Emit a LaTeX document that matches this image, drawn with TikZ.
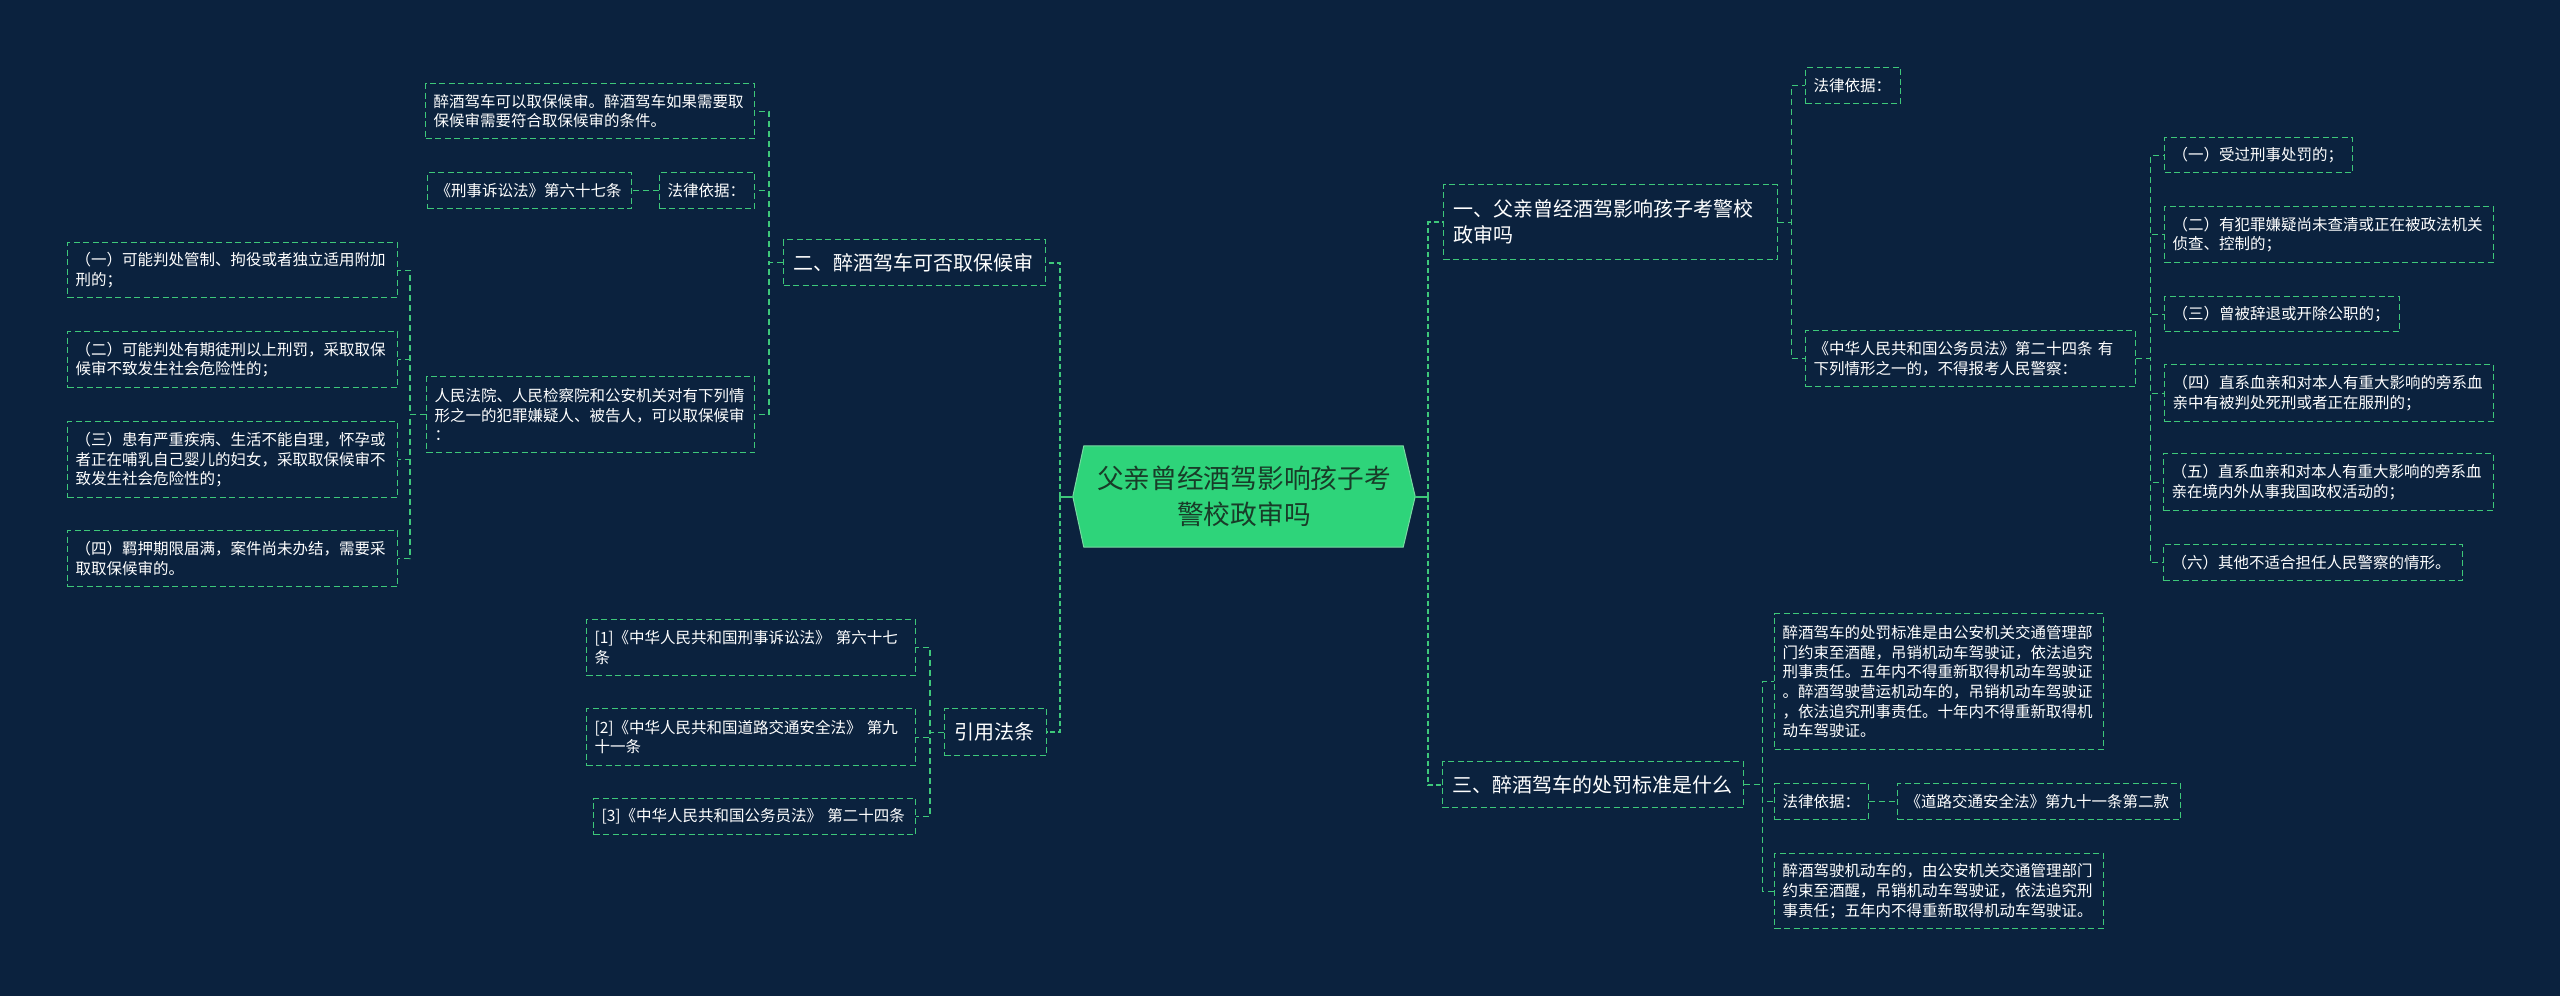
\documentclass[tikz,border=0pt]{standalone}
\usepackage{fontspec}
\setmainfont{Noto Sans CJK SC}
\usetikzlibrary{backgrounds,calc}
\definecolor{bgc}{RGB}{11,34,62}
\definecolor{lineg}{RGB}{62,200,122}
\definecolor{cfill}{RGB}{46,212,122}
\definecolor{ctext}{RGB}{24,60,40}
\tikzset{
  box/.style={draw=lineg, line width=1.3pt, dash pattern=on 6pt off 3.5pt, text=white, align=left,
    inner xsep=8pt, inner ysep=0pt, anchor=north west, font=\fontsize{15.5}{19.6}\selectfont},
  topic/.style={box, inner xsep=10pt, font=\fontsize{20}{26}\selectfont},
  conn/.style={draw=lineg, line width=1.3pt, dash pattern=on 6pt off 4pt},
  mainconn/.style={draw=lineg, line width=2pt, dash pattern=on 5pt off 3pt},
  stub/.style={draw=lineg, line width=2pt},
}
\begin{document}
\begin{tikzpicture}[x=1pt,y=-1pt]
\useasboundingbox (0,0) rectangle (2560,996);
% central
\node[font=\fontsize{26.7}{36}\selectfont, text=ctext, align=center, minimum width=342pt, minimum height=101pt, inner sep=0pt] (c) at (1244,496.5) {父亲曾经酒驾影响孩子考\\警校政审吗};
\begin{pgfonlayer}{background}
  \fill[bgc] (0,0) rectangle (2560,996);
  \filldraw[fill=cfill, draw=lineg!70!white, line width=1pt] (c.west) -- ($(c.north west)+(11,0)$) -- ($(c.north east)+(-12,0)$) -- (c.east)
     -- ($(c.south east)+(-12,0)$) -- ($(c.south west)+(11,0)$) -- cycle;
\end{pgfonlayer}

% left topics
\node[topic, text width=242pt, minimum height=46pt] (er) at (783,239) {二、醉酒驾车可否取保候审};
\node[topic, text width=82pt, minimum height=47pt] (yy) at (944,708) {引用法条};

\node[box, text width=313pt, minimum height=55pt] (A) at (425,83) {醉酒驾车可以取保候审。醉酒驾车如果需要取\\保候审需要符合取保候审的条件。};
\node[box, text width=188pt, minimum height=36pt] (B) at (427,172) {《刑事诉讼法》第六十七条};
\node[box, text width=79pt, minimum height=36pt] (C) at (659,172) {法律依据：};
\node[box, text width=312pt, minimum height=76pt] (D) at (426,376) {人民法院、人民检察院和公安机关对有下列情\\形之一的犯罪嫌疑人、被告人，可以取保候审\\：};

\node[box, text width=314pt, minimum height=55pt] (E1) at (67,242) {（一）可能判处管制、拘役或者独立适用附加\\刑的；};
\node[box, text width=314pt, minimum height=56pt] (E2) at (67,331) {（二）可能判处有期徒刑以上刑罚，采取取保\\候审不致发生社会危险性的；};
\node[box, text width=314pt, minimum height=76pt] (E3) at (67,421) {（三）患有严重疾病、生活不能自理，怀孕或\\者正在哺乳自己婴儿的妇女，采取取保候审不\\致发生社会危险性的；};
\node[box, text width=314pt, minimum height=56pt] (E4) at (67,530) {（四）羁押期限届满，案件尚未办结，需要采\\取取保候审的。};

\node[box, text width=313pt, minimum height=56pt] (R1) at (586,619) {[1]《中华人民共和国刑事诉讼法》~第六十七\\条};
\node[box, text width=313pt, minimum height=57pt] (R2) at (586,708) {[2]《中华人民共和国道路交通安全法》~第九\\十一条};
\node[box, text width=306pt, minimum height=36pt] (R3) at (593,798) {[3]《中华人民共和国公务员法》~第二十四条};

% right topics
\node[topic, text width=314pt, minimum height=75pt] (yi) at (1443,184) {一、父亲曾经酒驾影响孩子考警校\\政审吗};
\node[topic, text width=281pt, minimum height=46pt] (san) at (1442,761) {三、醉酒驾车的处罚标准是什么};

\node[box, text width=79pt, minimum height=36pt] (F1) at (1805,67) {法律依据：};
\node[box, text width=314pt, minimum height=56pt] (F2) at (1805,330) {《中华人民共和国公务员法》第二十四条~有\\下列情形之一的，不得报考人民警察：};

\node[box, text width=172pt, minimum height=35pt] (G1) at (2164,137) {（一）受过刑事处罚的；};
\node[box, text width=313pt, minimum height=56pt] (G2) at (2164,206) {（二）有犯罪嫌疑尚未查清或正在被政法机关\\侦查、控制的；};
\node[box, text width=219pt, minimum height=35pt] (G3) at (2164,296) {（三）曾被辞退或开除公职的；};
\node[box, text width=313pt, minimum height=57pt] (G4) at (2164,364) {（四）直系血亲和对本人有重大影响的旁系血\\亲中有被判处死刑或者正在服刑的；};
\node[box, text width=314pt, minimum height=57pt] (G5) at (2163,453) {（五）直系血亲和对本人有重大影响的旁系血\\亲在境内外从事我国政权活动的；};
\node[box, text width=283pt, minimum height=36pt] (G6) at (2163,544) {（六）其他不适合担任人民警察的情形。};

\node[box, text width=313pt, minimum height=136pt] (H1) at (1774,613) {醉酒驾车的处罚标准是由公安机关交通管理部\\门约束至酒醒，吊销机动车驾驶证，依法追究\\刑事责任。五年内不得重新取得机动车驾驶证\\。醉酒驾驶营运机动车的，吊销机动车驾驶证\\，依法追究刑事责任。十年内不得重新取得机\\动车驾驶证。};
\node[box, text width=78pt, minimum height=36pt] (H2) at (1774,783) {法律依据：};
\node[box, text width=267pt, minimum height=36pt] (H3) at (1897,783) {《道路交通安全法》第九十一条第二款};
\node[box, text width=313pt, minimum height=75pt] (H4) at (1774,853) {醉酒驾驶机动车的，由公安机关交通管理部门\\约束至酒醒，吊销机动车驾驶证，依法追究刑\\事责任；五年内不得重新取得机动车驾驶证。};

% connectors
\draw[stub] (c.west) -- ++(-13,0) coordinate (cl);
\draw[mainconn] (cl) |- (er.east);
\draw[mainconn] (cl) |- (yy.east);
\draw[stub] (c.east) -- ++(13,0) coordinate (cr);
\draw[mainconn] (cr) |- (yi.west);
\draw[mainconn] (cr) |- (san.west);

\draw[conn] (er.west) -- ++(-14,0) |- (A.east);
\draw[conn] (er.west) -- ++(-14,0) |- (C.east);
\draw[conn] (er.west) -- ++(-14,0) |- (D.east);
\draw[conn] (C.west) -- (B.east);
\draw[conn] (D.west) -- ++(-16,0) |- (E1.east);
\draw[conn] (D.west) -- ++(-16,0) |- (E2.east);
\draw[conn] (D.west) -- ++(-16,0) |- (E3.east);
\draw[conn] (D.west) -- ++(-16,0) |- (E4.east);
\draw[conn] (yy.west) -- ++(-14,0) |- (R1.east);
\draw[conn] (yy.west) -- ++(-14,0) |- (R2.east);
\draw[conn] (yy.west) -- ++(-14,0) |- (R3.east);

\draw[conn] (yi.east) -- ++(13,0) |- (F1.west);
\draw[conn] (yi.east) -- ++(13,0) |- (F2.west);
\draw[conn] (F2.east) -- ++(14,0) |- (G1.west);
\draw[conn] (F2.east) -- ++(14,0) |- (G2.west);
\draw[conn] (F2.east) -- ++(14,0) |- (G3.west);
\draw[conn] (F2.east) -- ++(14,0) |- (G4.west);
\draw[conn] (F2.east) -- ++(14,0) |- (G5.west);
\draw[conn] (F2.east) -- ++(14,0) |- (G6.west);
\draw[conn] (san.east) -- ++(18,0) |- (H1.west);
\draw[conn] (san.east) -- ++(18,0) |- (H2.west);
\draw[conn] (san.east) -- ++(18,0) |- (H4.west);
\draw[conn] (H2.east) -- (H3.west);
\end{tikzpicture}
\end{document}
